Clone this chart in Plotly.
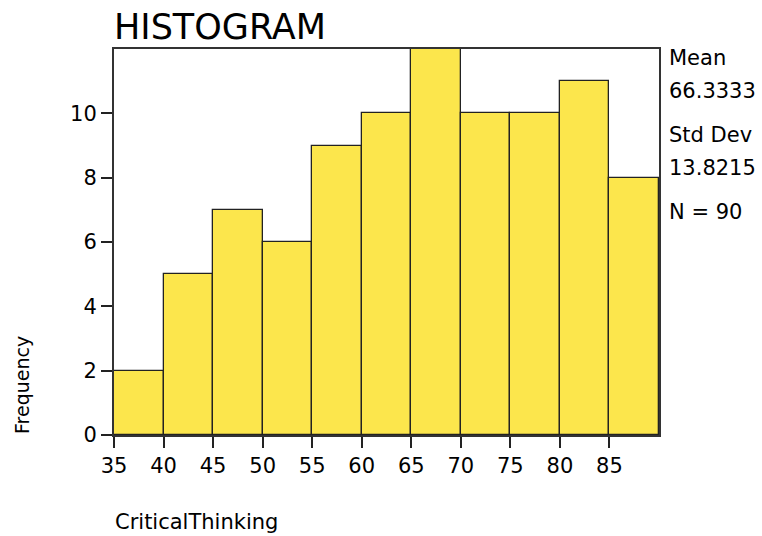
import plotly.graph_objects as go

bin_starts = [35, 40, 45, 50, 55, 60, 65, 70, 75, 80, 85]
counts = [2, 5, 7, 6, 9, 10, 12, 10, 10, 11, 8]
bin_width = 5
x_ticks = [35, 40, 45, 50, 55, 60, 65, 70, 75, 80, 85]
y_ticks = [0, 2, 4, 6, 8, 10]
stats_lines = [("Mean", 58), ("66.3333", 91), ("Std Dev", 135), ("13.8215", 168), ("N = 90", 212)]

FONT = "DejaVu Sans, Verdana, sans-serif"

fig = go.Figure()
fig.add_trace(go.Bar(
    x=[s + bin_width / 2 for s in bin_starts],
    y=counts,
    width=[bin_width] * len(counts),
    marker=dict(color="#FCE64C", line=dict(color="#222222", width=1.3)),
    hoverinfo="x+y",
))

fig.update_layout(
    width=762, height=536,
    margin=dict(l=114, r=103, t=49, b=101),
    paper_bgcolor="white", plot_bgcolor="white",
    showlegend=False,
    bargap=0,
    font=dict(family=FONT, size=21, color="black"),
    xaxis=dict(
        range=[35, 90], tickvals=x_ticks, ticktext=[str(v) for v in x_ticks],
        ticks="outside", ticklen=11, tickwidth=2, tickcolor="#222222",
        showline=True, linecolor="#333333", linewidth=2, mirror=True,
        showgrid=False, zeroline=False,
        tickfont=dict(family=FONT, size=21),
    ),
    yaxis=dict(
        range=[0, 12], tickvals=y_ticks,
        ticks="outside", ticklen=11, tickwidth=2, tickcolor="#222222",
        showline=True, linecolor="#333333", linewidth=2, mirror=True,
        showgrid=False, zeroline=False,
        tickfont=dict(family=FONT, size=21),
    ),
)

fig.add_annotation(text="HISTOGRAM", xref="paper", yref="paper", x=0, y=1,
                   xanchor="left", yanchor="bottom", yshift=0, xshift=-2,
                   showarrow=False, font=dict(family=FONT, size=35, color="black"))
for txt, ypx in stats_lines:
    yp = 1 - (ypx - 49) / (435 - 49)
    fig.add_annotation(text=txt, xref="paper", yref="paper", x=1, y=yp,
                       xanchor="left", yanchor="middle", xshift=8,
                       showarrow=False, font=dict(family=FONT, size=21, color="black"))
fig.add_annotation(text="Frequency", xref="paper", yref="paper", x=0, y=(435 - 385) / 386,
                   xanchor="center", yanchor="middle", xshift=-92, textangle=-90,
                   showarrow=False, font=dict(family=FONT, size=19, color="black"))
fig.add_annotation(text="CriticalThinking", xref="paper", yref="paper", x=0, y=0,
                   xanchor="left", yanchor="middle", yshift=-(522 - 435), xshift=-1,
                   showarrow=False, font=dict(family=FONT, size=21, color="black"))

fig.write_html("out.html", config={"displayModeBar": False},
               post_script="document.body.style.margin='0';")
